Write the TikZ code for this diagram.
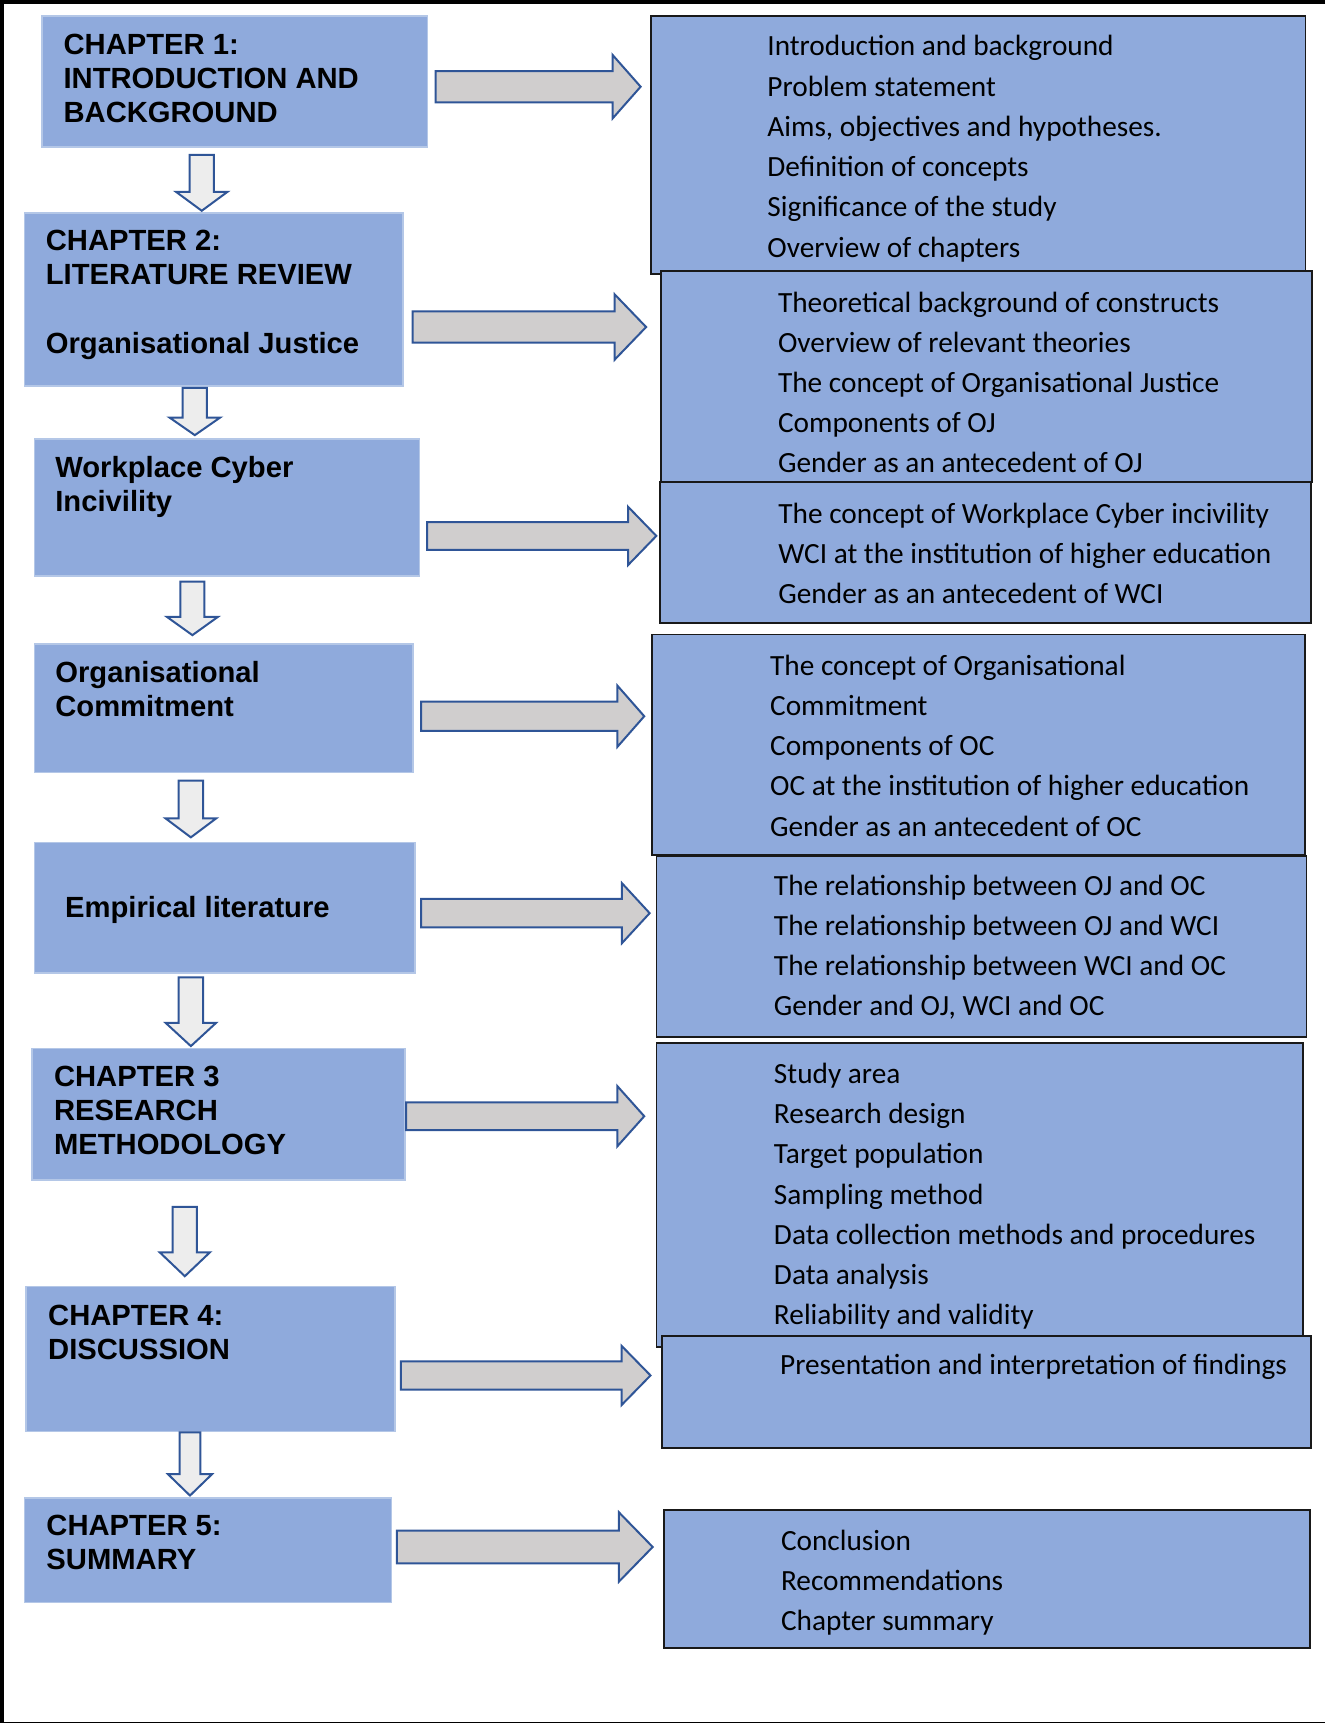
\documentclass[tikz,border=0pt]{standalone}
\usepackage{fontspec}
\newfontfamily\arialfont{Liberation Sans}
\newfontfamily\calfont{Carlito}
\usepackage{xcolor}
\usetikzlibrary{positioning, arrows.meta, fit}
\definecolor{boxblue}{HTML}{8FAADC}
\definecolor{boxedge}{HTML}{B4C7E7}
\definecolor{arrowedge}{HTML}{2F5597}
\definecolor{shaftgrey}{HTML}{D0CECE}
\definecolor{downgrey}{HTML}{EDEDED}

\begin{document}
\begin{tikzpicture}[x=0.5493pt, y=-0.5493pt,
        chapbox/.style={fill=boxblue, draw=boxedge, line width=0.8pt, inner sep=0pt},
        topicbox/.style={fill=boxblue, draw=black!90, line width=0.9pt, inner sep=0pt},
        chaptext/.style={font=\arialfont\bfseries\fontsize{14.6}{17.1}\selectfont, align=left, anchor=base west, inner sep=0pt},
        topictext/.style={font=\calfont\fontsize{14.65}{20.1}\selectfont, align=left, anchor=base west, inner sep=0pt},
        rblock/.style={fill=shaftgrey, draw=arrowedge, line width=1pt},
        dblock/.style={fill=downgrey, draw=arrowedge, line width=1pt}]
        \useasboundingbox (0,0) rectangle (1206,1568);

        % Page frame (open on the right)
        \draw[line width=2pt] (1206,1.8) -- (1.8,1.8) -- (1.8,1567.6);
        \draw[line width=0.8pt] (1.8,1567.6) -- (1206,1567.6);

        % Chapter boxes (text placed by the baseline of its last line)
        \node[chapbox, fit={(38.3,14.3) (389,133.5)}] (ch1) {};
        \node[chaptext] (ch1-text) at (57.5,111.5) {CHAPTER 1:\\INTRODUCTION AND\\BACKGROUND};

        \node[chapbox, fit={(22.2,193.6) (367,351)}] (ch2) {};
        \node[chaptext] (ch2-text) at (41.4,321.6) {CHAPTER 2:\\LITERATURE REVIEW\\ ~\\Organisational Justice};

        \node[chapbox, fit={(31.3,399.6) (381.9,524)}] (ch2b) {};
        \node[chaptext] (ch2b-text) at (50,465.6) {Workplace Cyber\\Incivility};

        \node[chapbox, fit={(31.3,585.9) (375.8,703)}] (ch2c) {};
        \node[chaptext] (ch2c-text) at (50,651.8) {Organisational\\Commitment};

        \node[chapbox, fit={(31.3,766.7) (377.9,885.3)}] (ch2d) {};
        \node[chaptext] (ch2d-text) at (58.9,835) {Empirical literature};

        \node[chapbox, fit={(29.3,954.2) (368.6,1074)}] (ch3) {};
        \node[chaptext] (ch3-text) at (48.8,1050.8) {CHAPTER 3\\RESEARCH\\METHODOLOGY};

        \node[chapbox, fit={(23.6,1170.7) (359.6,1302.8)}] (ch4) {};
        \node[chaptext] (ch4-text) at (43.5,1237.4) {CHAPTER 4:\\DISCUSSION};

        \node[chapbox, fit={(22.4,1363.4) (356.3,1458.4)}] (ch5) {};
        \node[chaptext] (ch5-text) at (41.9,1428.6) {CHAPTER 5:\\SUMMARY};

        % Content boxes
        \node[topicbox, fit={(592.3,14.3) (1188,249.4)}] (sum1) {};
        \node[topictext] (sum1-text) at (698,233.9) {Introduction and background\\Problem statement\\Aims, objectives and hypotheses.\\Definition of concepts\\Significance of the study\\Overview of chapters};

        \node[topicbox, fit={(601.4,246.4) (1193.7,438.4)}] (sum2) {};
        \node[topictext] (sum2-text) at (707.7,430.4) {Theoretical background of constructs\\Overview of relevant theories\\The concept of Organisational Justice\\Components of OJ\\Gender as an antecedent of OJ};

        \node[topicbox, fit={(600.7,438.4) (1193,566.7)}] (sum3) {};
        \node[topictext] (sum3-text) at (708,549.5) {The concept of Workplace Cyber incivility\\WCI at the institution of higher education\\Gender as an antecedent of WCI};

        \node[topicbox, fit={(593.6,577.4) (1187.8,778.2)}] (sum4) {};
        \node[topictext] (sum4-text) at (700.5,760.8) {The concept of Organisational\\Commitment\\Components of OC\\OC at the institution of higher education\\Gender as an antecedent of OC};

        \node[topicbox, fit={(597.4,778.8) (1189,943.5)}] (sum5) {};
        \node[topictext] (sum5-text) at (704,924.4) {The relationship between OJ and OC\\The relationship between OJ and WCI\\The relationship between WCI and OC\\Gender and OJ, WCI and OC};

        \node[topicbox, fit={(597.4,949.5) (1185.6,1225.7)}] (sum6) {};
        \node[topictext] (sum6-text) at (704,1205.5) {Study area\\Research design\\Target population\\Sampling method\\Data collection methods and procedures\\Data analysis\\Reliability and validity};

        \node[topicbox, fit={(602.4,1215.7) (1193.3,1317.6)}] (sum7) {};
        \node[topictext] (sum7-text) at (709.6,1250.6) {Presentation and interpretation of findings};

        \node[topicbox, fit={(604,1373.8) (1192.4,1499.4)}] (sum8) {};
        \node[topictext] (sum8-text) at (710.4,1484) {Conclusion\\Recommendations\\Chapter summary};

        % Block arrows to the content boxes
        \foreach \xa/\xh/\xt/\yc/\sh/\hh in {396.5/557.4/583/78.9/14.2/29, 375.5/559.3/588/297.6/14.3/29.8,
                388.8/571.6/597.3/487.7/12.6/26.5, 383.2/561.9/586.3/651.8/13.2/27.8,
                383.2/566/591.2/831/12.9/27.3, 369.7/561.9/586.3/1015.8/12.7/27.3,
                364.9/565.6/592/1251.7/12.8/27, 361.2/563.2/594/1407.8/15/31.6}
            \draw[rblock] (\xa,\yc-\sh) -- (\xh,\yc-\sh) -- (\xh,\yc-\hh) -- (\xt,\yc) -- (\xh,\yc+\hh) -- (\xh,\yc+\sh) -- (\xa,\yc+\sh) -- cycle;

        % Block arrows down the chapters
        \foreach \xc/\ya/\yh/\yt/\sh/\hh in {183.6/141/174.5/191.8/11/23.5, 177.3/353/380/396/11/23,
                175.1/529.4/561.3/578/11/23.3, 173.7/710.5/744.8/762/11.2/23,
                173.7/889.5/930.8/952/11.2/23, 168.2/1098.2/1139.8/1161.4/11/22.7,
                172.9/1303.5/1341.6/1361/9.5/20}
            \draw[dblock] (\xc-\sh,\ya) -- (\xc+\sh,\ya) -- (\xc+\sh,\yh) -- (\xc+\hh,\yh) -- (\xc,\yt) -- (\xc-\hh,\yh) -- (\xc-\sh,\yh) -- cycle;
    \end{tikzpicture}
\end{document}
